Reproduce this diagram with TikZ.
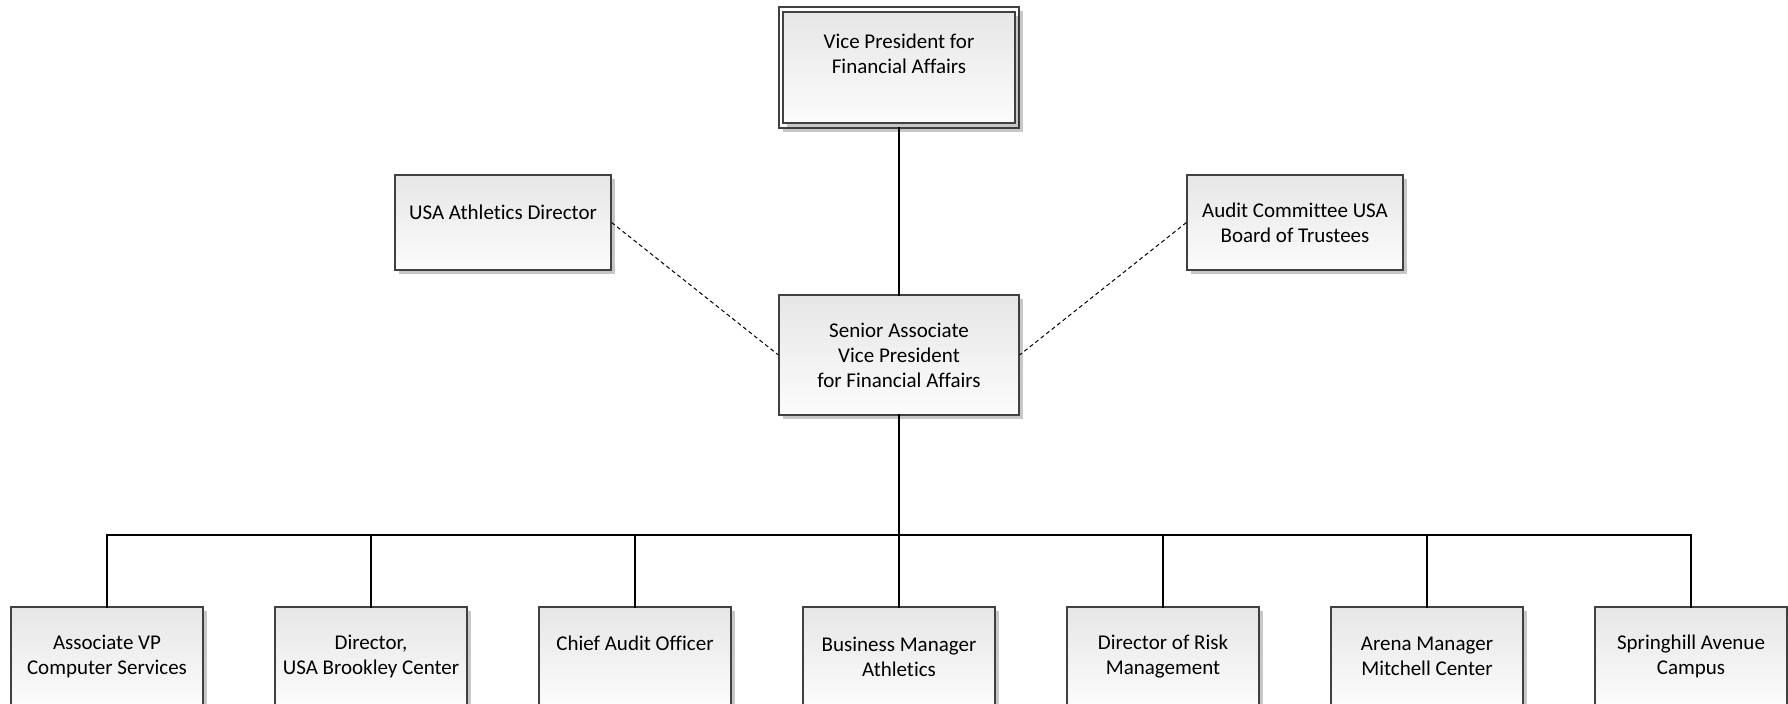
\documentclass[tikz,border=0pt]{standalone}
\usepackage{fontspec}
\setmainfont{Carlito}[Ligatures=NoCommon]
\usetikzlibrary{shadows}
\definecolor{boxline}{HTML}{404040}
\definecolor{shadetop}{HTML}{E6E6E6}
\definecolor{shadebot}{HTML}{FCFCFC}
\tikzset{
  orgbox/.style={rectangle, draw=boxline, line width=0.6pt, top color=shadetop, bottom color=shadebot,
    align=center, inner sep=0pt, font=\fontsize{10.5}{12.5}\selectfont,
    drop shadow={shadow xshift=2pt, shadow yshift=-2pt, fill=black, opacity=0.22}},
  outerbox/.style={rectangle, draw=boxline, line width=0.6pt, fill=white, inner sep=0pt,
    drop shadow={shadow xshift=2pt, shadow yshift=-2pt, fill=black, opacity=0.22}},
  conn/.style={draw=black, line width=1.4pt, line cap=rect, line join=miter},
  dotconn/.style={draw=black, line width=0.5pt, dash pattern=on 2pt off 1.5pt},
}
\begin{document}
\begin{tikzpicture}[x=0.5pt,y=-0.5pt]
\useasboundingbox (0,0) rectangle (1788,703);
\clip (0,0) rectangle (1788,703);
% top box (double border)
\node[outerbox, minimum width=120pt, minimum height=60.5pt] (vpo) at (899,67.5) {};
\node[orgbox, drop shadow={opacity=0}, minimum width=116pt, minimum height=55.5pt] (vp) at (899,67.5)
  {Vice President for\\Financial Affairs\\[-2.4pt]\strut};
% side boxes
\node[orgbox, minimum width=108pt, minimum height=47.5pt] (athl) at (503,222.5)
  {USA Athletics Director\\[-6pt]\strut};
\node[orgbox, minimum width=108pt, minimum height=47.5pt] (audit) at (1295,222.5)
  {Audit Committee USA\\Board of Trustees};
% senior
\node[orgbox, minimum width=120pt, minimum height=60pt] (svp) at (899,355)
  {Senior Associate\\Vice President\\for Financial Affairs};
% children
\tikzset{child/.style={orgbox, minimum width=96pt, minimum height=49.5pt}}
\node[child] (c1) at (107,656.5) {Associate VP\\Computer Services};
\node[child] (c2) at (371,656.5) {Director,\\USA Brookley Center};
\node[child] (c3) at (635,656.5) {Chief Audit Officer\\[-3.4pt]\strut};
\node[child] (c4) at (899,656.5) {Business Manager\\Athletics};
\node[child] (c5) at (1163,656.5) {Director of Risk\\Management};
\node[child] (c6) at (1427,656.5) {Arena Manager\\Mitchell Center};
\node[child] (c7) at (1691,656.5) {Springhill Avenue\\Campus};
\coordinate (bus) at (899,535);
% connectors
\draw[conn] (vpo.south) -- (svp.north);
\draw[conn] (svp.south) -- (bus);
\draw[conn] (c1.north) |- (c7.north |- bus) -- (c7.north);
\foreach \c in {c2,c3,c4,c5,c6} { \draw[conn] (\c.north) -- (\c.north |- bus); }
\draw[dotconn] (athl.east) -- (svp.west);
\draw[dotconn] (audit.west) -- (svp.east);
\end{tikzpicture}
\end{document}
